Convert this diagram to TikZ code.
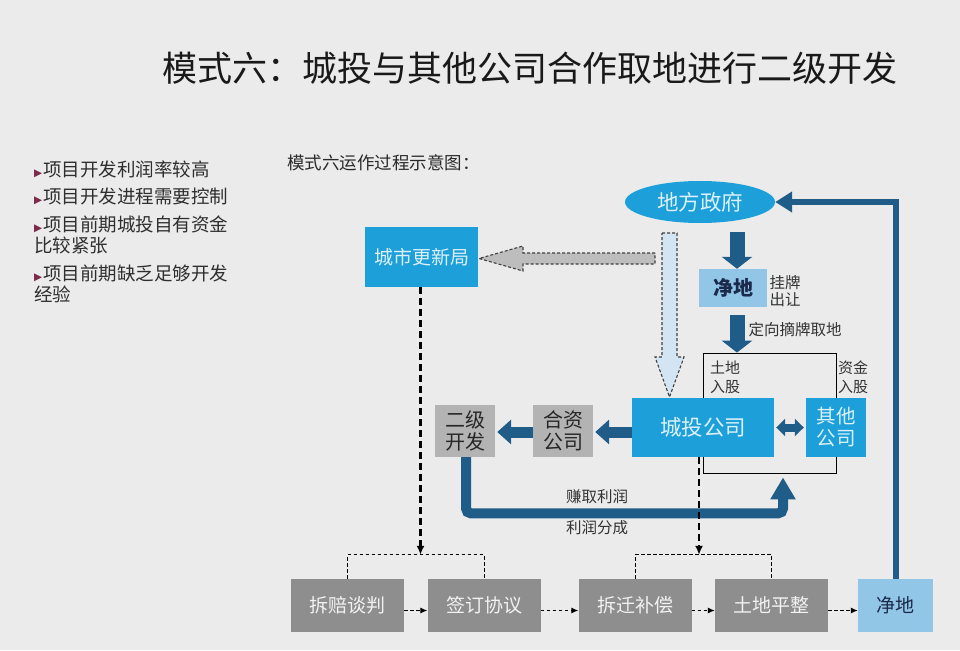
\documentclass[tikz,border=0pt]{standalone}
\usepackage{fontspec}
\setmainfont{Noto Sans CJK SC}
\newfontfamily\symfont{DejaVu Sans}
\usetikzlibrary{arrows.meta,shapes.geometric,calc}
\definecolor{cbg}{HTML}{EBEBEB}
\definecolor{cblue}{HTML}{1D9FD9}
\definecolor{cdark}{HTML}{1F5C88}
\definecolor{clight}{HTML}{92C6E6}
\definecolor{cpale}{HTML}{D3E5F2}
\definecolor{cgrayA}{HTML}{B3B3B3}
\definecolor{cgrayB}{HTML}{8E8E8E}
\definecolor{cgrayC}{HTML}{BDBDBD}
\definecolor{ctxtl}{HTML}{DDF1FA}
\definecolor{ctxt}{HTML}{333333}
\definecolor{cnavy}{HTML}{1B2A4A}
\definecolor{cmaroon}{HTML}{7A2A4A}
\newcommand{\bul}{{\symfont\fontsize{10.5}{10}\selectfont\textcolor{cmaroon}{▶}}\hspace{1pt}}
\begin{document}
\begin{tikzpicture}[x=1pt,y=-1pt,
  box/.style={inner sep=0pt, draw=none, align=center},
  bluebox/.style={box, fill=cblue, text=ctxtl},
  grayA/.style={box, fill=cgrayA, text=black!85, font=\fontsize{20}{22}\selectfont},
  grayB/.style={box, fill=cgrayB, text=white!95!black, minimum width=113pt, minimum height=53pt, font=\fontsize{19}{22}\selectfont},
  lbl/.style={inner sep=0pt, text=ctxt, align=left, font=\fontsize{15.5}{18}\selectfont},
  bullet/.style={inner sep=0pt, anchor=west, text=ctxt!90!black, font=\fontsize{18.5}{21}\selectfont},
  fatv/.style={draw=cdark, line width=15pt, -{Triangle[width=30pt,length=12pt]}},
  fath/.style={draw=cdark, line width=11pt, -{Triangle[width=24pt,length=14pt]}},
  dline/.style={draw=black, line width=2.4pt, dash pattern=on 7pt off 4pt, -{Latex[length=9pt,width=8pt]}},
  dthin/.style={draw=black, line width=1pt, dash pattern=on 3.5pt off 2.5pt},
  blockarrow/.style={draw=black!75, line width=1.1pt, dash pattern=on 3pt off 2pt}
]
\fill[cbg] (0,0) rectangle (960,650);
\useasboundingbox (0,0) rectangle (960,650);

% title and texts
\node[inner sep=0pt, text=black!90, font=\fontsize{35}{40}\selectfont] (title) at (530,68) {模式六：城投与其他公司合作取地进行二级开发};
\node[inner sep=0pt, anchor=west, text=ctxt!80!black, font=\fontsize{17.5}{20}\selectfont] (sub) at (287,163) {模式六运作过程示意图：};

\node[bullet] (b1) at (34,169) {\bul 项目开发利润率较高};
\node[bullet] (b2) at (34,196) {\bul 项目开发进程需要控制};
\node[bullet] (b3) at (34,224) {\bul 项目前期城投自有资金};
\node[bullet] (b3b) at (34,245) {比较紧张};
\node[bullet] (b4) at (34,273) {\bul 项目前期缺乏足够开发};
\node[bullet] (b4b) at (34,294) {经验};

% frame behind
\node[draw=black, line width=0.8pt, minimum width=133pt, minimum height=120pt, inner sep=0pt] (frame) at (769.5,413) {};

% main nodes
\node[ellipse, fill=cblue, text=ctxtl, inner sep=0pt, minimum width=150pt, minimum height=42pt, font=\fontsize{21.5}{24}\selectfont] (gov) at (700,202) {地方政府};
\node[bluebox, minimum width=113pt, minimum height=60pt, font=\fontsize{19}{22}\selectfont] (cs) at (421.5,257) {城市更新局};
\node[box, fill=clight, text=cnavy, minimum width=68pt, minimum height=38pt, font=\fontsize{20}{22}\selectfont\bfseries] (jd1) at (733,288) {净地};
\node[bluebox, minimum width=142pt, minimum height=59pt, font=\fontsize{21.5}{24}\selectfont] (ct) at (703,427.5) {城投公司};
\node[bluebox, minimum width=60pt, minimum height=59pt, font=\fontsize{19.5}{22}\selectfont] (qt) at (836,427.5) {其他\\公司};
\node[grayA, minimum width=60pt, minimum height=52pt] (hz) at (563,431) {合资\\公司};
\node[grayA, minimum width=60pt, minimum height=52pt] (ej) at (465,431) {二级\\开发};

% bottom row
\node[grayB] (p1) at (347.5,605.5) {拆赔谈判};
\node[grayB] (p2) at (484,605.5) {签订协议};
\node[grayB] (p3) at (635,605.5) {拆迁补偿};
\node[grayB] (p4) at (771.5,605.5) {土地平整};
\node[box, fill=clight, text=cnavy, minimum width=75pt, minimum height=53pt, font=\fontsize{19}{22}\selectfont] (jd2) at (895.5,605.5) {净地};

% labels
\node[lbl] (l1) at (785,291.5) {挂牌\\[-1pt]出让};
\node[lbl] (l2) at (795,330) {定向摘牌取地};
\node[lbl, font=\fontsize{15}{19}\selectfont] (l3) at (725,377.5) {土地\\入股};
\node[lbl, font=\fontsize{15}{19}\selectfont] (l4) at (853,377.5) {资金\\入股};
\node[lbl] (l5) at (597,497) {赚取利润};
\node[lbl] (l6) at (597,528) {利润分成};

% block dashed arrows
\draw[blockarrow, fill=cgrayC] (655,253) -- (523,253) -- (523,246) -- (479,258.5) -- (523,271) -- (523,264) -- (655,264) -- cycle;
\draw[blockarrow, fill=cpale] (662,233) -- (677,233) -- (677,357) -- (684,357) -- (669.5,397) -- (655,357) -- (662,357) -- cycle;

% thick arrows
\draw[fatv] ($(jd1.north |- gov.south)+(4,9)$) -- ($(jd1.north)+(4,0)$);
\draw[fatv] ($(jd1.south)+(4,8)$) -- ($(frame.north -| jd1.south)+(4,0)$);
\draw[fath] ($(ct.west)+(0,4.5)$) -- ($(hz.east)+(2,1)$);
\draw[fath] ($(hz.west)+(0,1)$) -- ($(ej.east)+(2,1)$);
\draw[draw=cdark, line width=8pt, {Triangle[width=17pt,length=9pt]}-{Triangle[width=17pt,length=9pt]}] ($(ct.east)+(2,0)$) -- ($(qt.west)+(-2,0)$);
\draw[draw=cdark, line width=10pt, rounded corners=5pt, -{Triangle[width=24pt,length=22pt]}] ($(ej.south)+(1,0)$) |- ($(frame.south)+(13.5,40)$) -- ($(frame.south)+(13.5,4)$);
\draw[draw=cdark, line width=6pt, -{Triangle[width=20pt,length=17pt]}] (jd2.north) |- (gov.east);

% dashed flow lines
\draw[dline] ($(cs.south)+(-1,0)$) -- ($(cs.south |- p1.north)+(-1,-24)$);
\draw[dline] ($(ct.south)+(-4,0)$) -- ($(ct.south |- p3.north)+(-4,-24)$);
\draw[dthin] (p1.north) -- ++(0,-24) -| (p2.north);
\draw[dthin] (p3.north) -- ++(0,-24) -| (p4.north);
\draw[dthin, -{Latex[length=7pt,width=6pt]}] ($(p1.east)+(0,5)$) -- ($(p2.west)+(0,5)$);
\draw[dthin, -{Latex[length=7pt,width=6pt]}] ($(p2.east)+(0,5)$) -- ($(p3.west)+(0,5)$);
\draw[dthin, -{Latex[length=7pt,width=6pt]}] ($(p3.east)+(0,5)$) -- ($(p4.west)+(0,5)$);
\draw[dthin, -{Latex[length=7pt,width=6pt]}] ($(p4.east)+(0,5)$) -- ($(jd2.west)+(0,5)$);
\end{tikzpicture}
\end{document}
